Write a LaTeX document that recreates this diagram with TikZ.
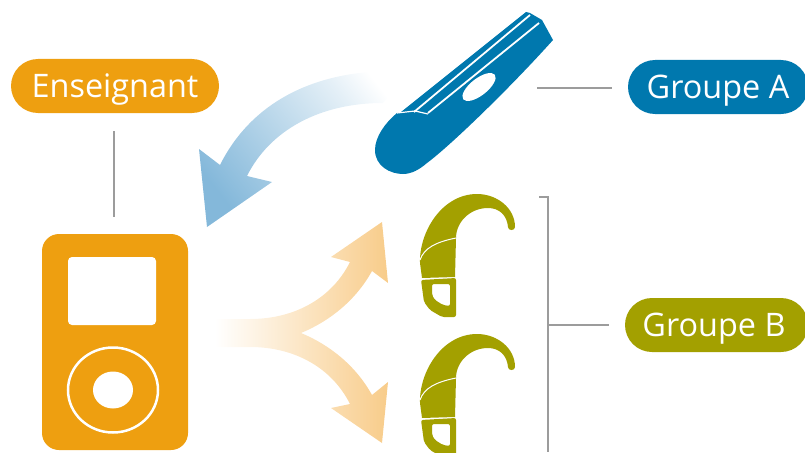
\documentclass[tikz,border=0pt]{standalone}
\usepackage{fontspec}
\setmainfont{Open Sans}
\usepackage{xcolor}
\usetikzlibrary{positioning,calc,shapes.geometric}
\definecolor{orange}{HTML}{EE9F10}
\definecolor{blue}{HTML}{0078AE}
\definecolor{olive}{HTML}{A3A000}
\definecolor{linegrey}{HTML}{9C9C9C}
\definecolor{lightblue}{HTML}{84B8DA}
\definecolor{lightorange}{HTML}{F8CC8A}
\pgfdeclareverticalshading{bluefade}{100bp}{color(0bp)=(lightblue);color(25bp)=(lightblue);color(68bp)=(lightblue!22);color(78bp)=(white);color(100bp)=(white)}
\tikzset{
  pill/.style={
    rounded corners=27pt,text=white,inner sep=0pt,
    minimum height=54pt,text height=23pt,text depth=0pt,
    font=\fontsize{32.4}{32.4}\selectfont
  },
  greyline/.style={draw=linegrey,line width=1.2pt},
  hook/.pic={
    \fill[olive] (420,263) .. controls (419,232) and (442,194) .. (477,194)
      .. controls (497,194) and (515,208) .. (515,227)
      .. controls (515,231) and (508,231) .. (508,227)
      .. controls (507,215) and (499,208) .. (488,208)
      .. controls (470,208) and (456,222) .. (456,238)
      -- (455,277) -- (422,278) -- cycle;
    \draw[white,line width=1pt] (420,260) .. controls (424,248) and (436,242) .. (456,238);
    \fill[olive,even odd rule,rounded corners=2pt] (421,280) -- (456,278)
      -- (456,317) -- (442,317) -- (430,310) -- (424,302) -- cycle
      (432,284) -- (450,284) -- (450,306) -- (443,305) -- (435,300) -- (432,295) -- cycle;
  }
}
\begin{document}
\begin{tikzpicture}[x=1pt,y=-1pt]
\useasboundingbox (0,0) rectangle (805,452);
% labels
\node[pill,fill=orange,minimum width=208pt] (teacher) at (115,86) {Enseignant};
\node[pill,fill=blue,minimum width=180pt] (groupA) at (718,87) {Groupe A};
\node[pill,fill=olive,minimum width=183pt] (groupB) at (716.5,325) {\hspace*{-5pt}Groupe B};

% player
\node[fill=orange,rounded corners=17pt,minimum width=146pt,minimum height=216pt,inner sep=0pt] (player) at (115,342) {};
\node[fill=white,rounded corners=4pt,minimum width=88pt,minimum height=68pt,inner sep=0pt] (screen) at (112,291) {};
\node[ellipse,draw=white,line width=2.5pt,minimum width=90pt,minimum height=85pt,inner sep=0pt] (wheel) at (113,390) {};
\node[ellipse,fill=white,minimum width=40pt,minimum height=37pt,inner sep=0pt] (button) at (wheel) {};

% remote
\fill[blue] (526,12) -- (401,112) -- (397,113) .. controls (385,123) and (375,137) .. (375,150)
  .. controls (375,166) and (390,174) .. (403,174) .. controls (412,174) and (420,169) .. (427,163)
  .. controls (450,146) and (510,88) .. (553,40) -- (542,20) -- (530,13) -- cycle;
\draw[white,line width=1.8pt] (530,15) -- (414,112) (539,23) -- (428,113);
\draw[white,line width=1.2pt] (397,113) -- (415,111) -- (428,114);
\node[ellipse,fill=white,rotate=38,minimum width=40pt,minimum height=17pt,inner sep=0pt] (hole) at (479,87) {};

% hooks
\pic (hookA) at (0,0) {hook};
\pic (hookB) at (0,140) {hook};

% arrows
\shade[shading=bluefade,shading angle=-52]
  (393,71) -- (400,85) -- (383,103) .. controls (320,103) and (270,130) .. (247,176)
  -- (272,182) -- (207,227) -- (199,149) -- (220,165)
  .. controls (250,105) and (310,71) .. (393,71) -- cycle;
\shade[left color=white,right color=lightorange]
  (215,319) -- (250,319) .. controls (295,319) and (332,298) .. (350,262)
  -- (331,257) -- (382,222) -- (388,283) -- (372,271)
  .. controls (356,300) and (330,321) .. (301,333)
  .. controls (330,345) and (356,366) .. (372,395)
  -- (388,382) -- (382,443) -- (331,408) -- (350,404)
  .. controls (332,368) and (295,347) .. (250,347) -- (215,347) -- cycle;

% lines
\coordinate (remoteend) at (537,88);
\coordinate (hooktop) at (539,197);
\coordinate (hookend) at (548,452);
\coordinate (joint) at (548,325);
\draw[greyline] ($(teacher.south)+(-1,18)$) -- ($(player.north)+(-1,-17)$);
\draw[greyline] (remoteend) -- ($(groupA.west)+(-16,1)$);
\draw[greyline] (hooktop) -| (hookend);
\draw[greyline] (joint) -- ($(groupB.west)+(-16,0)$);
\end{tikzpicture}
\end{document}
